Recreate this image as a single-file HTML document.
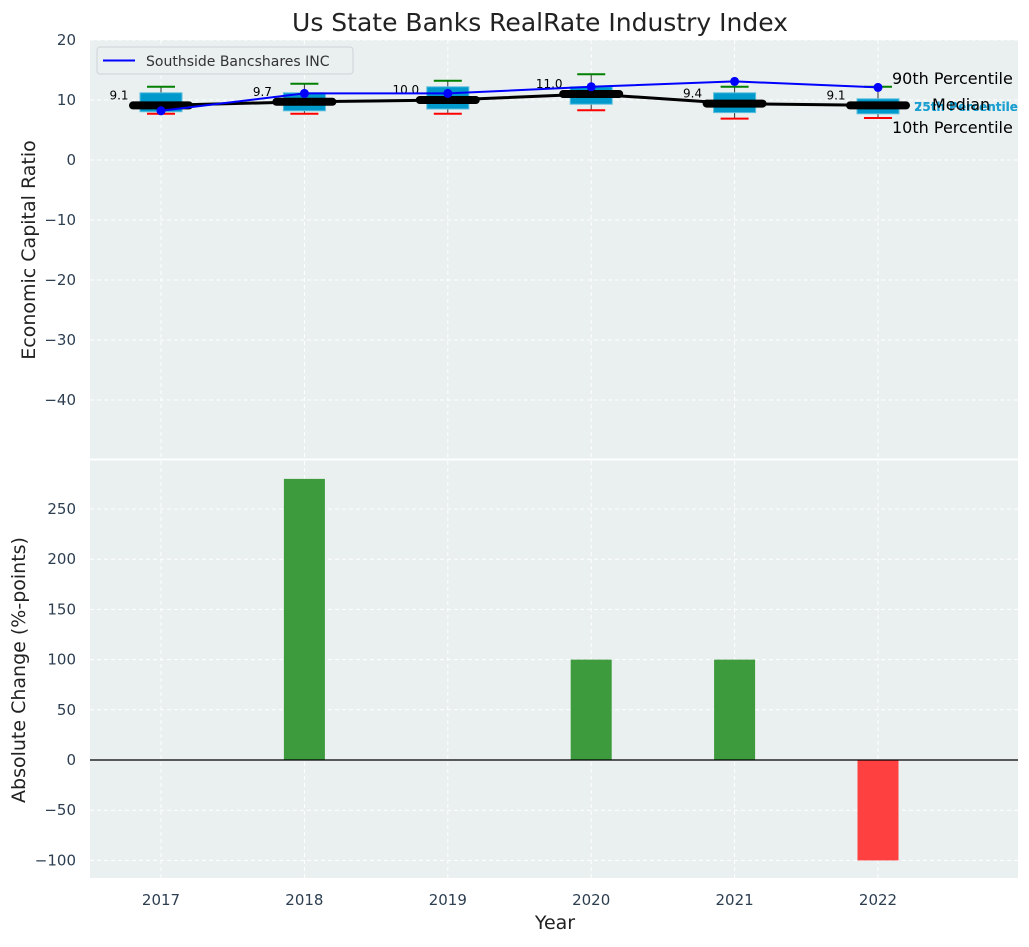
<!DOCTYPE html>
<html><head><meta charset="utf-8"><style>
body{margin:0;background:#fff;font-family:"Liberation Sans","DejaVu Sans",sans-serif}
svg text{font-family:"DejaVu Sans","Liberation Sans",sans-serif}
</style></head><body>
<svg id="c" width="1029" height="942" xmlns="http://www.w3.org/2000/svg"></svg>
<script>
const years=[2017,2018,2019,2020,2021,2022];
const p10=[7.7,7.7,7.7,8.3,6.9,7.0];
const p25=[8.05,8.2,8.5,9.3,7.9,7.7];
const median=[9.1,9.7,10.0,11.0,9.4,9.1];
const p75=[11.2,11.2,12.2,12.2,11.2,10.2];
const p90=[12.2,12.7,13.2,14.3,12.2,12.2];
const company=[8.2,11.1,11.1,12.2,13.1,12.1];
const changes=[0,280,0,100,100,-100];
const topTicks=[20,10,0,-10,-20,-30,-40];
const botTicks=[250,200,150,100,50,0,-50,-100];

const NS='http://www.w3.org/2000/svg';
const svg=document.getElementById('c');
function el(t,a,parent){const e=document.createElementNS(NS,t);for(const k in a)e.setAttribute(k,a[k]);(parent||svg).appendChild(e);return e;}
const L=90,R=1018;
const x=i=>161+i*143.4;
const yT=v=>160-v*6;
const yB=v=>760-v*1.004;

let bg=el('rect',{x:L,y:40,width:R-L,height:420,fill:'#eaeff0'});

let bg2=el('rect',{x:L,y:460,width:R-L,height:418,fill:'#eaeff0'});

el('line',{x1:L,x2:R,y1:459.5,y2:459.5,stroke:'#fff','stroke-width':2});

years.forEach((yr,i)=>{
 el('line',{x1:x(i),x2:x(i),y1:40,y2:458,stroke:'#fff','stroke-dasharray':'4,3','stroke-width':1});
 el('line',{x1:x(i),x2:x(i),y1:461,y2:878,stroke:'#fff','stroke-dasharray':'4,3','stroke-width':1});
 const t=el('text',{x:x(i),y:905,'text-anchor':'middle','font-size':15,fill:'#2c3e50'});t.textContent=yr;
 
});
topTicks.forEach(v=>{
 el('line',{x1:L,x2:R,y1:yT(v),y2:yT(v),stroke:'#fff','stroke-dasharray':'4,3'});
 const t=el('text',{x:76,y:yT(v)+5,'text-anchor':'end','font-size':15,fill:'#2c3e50'});t.textContent=v<0?'\u2212'+(-v):v;
 
});
botTicks.forEach(v=>{
 el('line',{x1:L,x2:R,y1:yB(v),y2:yB(v),stroke:'#fff','stroke-dasharray':'4,3'});
 const t=el('text',{x:76,y:yB(v)+5,'text-anchor':'end','font-size':15,fill:'#2c3e50'});t.textContent=v<0?'\u2212'+(-v):v;
 
});

years.forEach((yr,i)=>{
 const cx=x(i);
 el('line',{x1:cx,x2:cx,y1:yT(p90[i]),y2:yT(p10[i]),stroke:'#333','stroke-width':1});
 const b=el('rect',{x:cx-21,y:yT(p75[i]),width:42,height:yT(p25[i])-yT(p75[i]),fill:'#0099cc',stroke:'#5bc0de','stroke-width':1});
 
 el('line',{x1:cx-14,x2:cx+14,y1:yT(p90[i]),y2:yT(p90[i]),stroke:'green','stroke-width':2});
 el('line',{x1:cx-14,x2:cx+14,y1:yT(p10[i]),y2:yT(p10[i]),stroke:'red','stroke-width':2});
});
let pts=years.map((y,i)=>x(i)+','+yT(median[i])).join(' ');
let ml=el('polyline',{points:pts,fill:'none',stroke:'#000','stroke-width':3});

years.forEach((yr,i)=>{
 const m=el('line',{x1:x(i)-28,x2:x(i)+28,y1:yT(median[i]),y2:yT(median[i]),stroke:'#000','stroke-width':8,'stroke-linecap':'round'});
 
 const t=el('text',{x:x(i)-42,y:yT(median[i])-6,'text-anchor':'middle','font-size':12,fill:'#000'});t.textContent=median[i].toFixed(1);
 
});
let cl=el('polyline',{points:years.map((y,i)=>x(i)+','+yT(company[i])).join(' '),fill:'none',stroke:'blue','stroke-width':2});

years.forEach((yr,i)=>{
 const c=el('circle',{cx:x(i),cy:yT(company[i]),r:4.5,fill:'blue'});
 
});
[['90th Percentile',84,892,'#000',16,'normal'],
 ['25th Percentile',111,914,'#1a9fd0',12,'bold'],
 ['75th Percentile',111,914,'#1a9fd0',12,'bold'],
 ['Median',110,932,'#000',16,'normal'],
 ['10th Percentile',133,892,'#000',16,'normal']].forEach(l=>{
 const t=el('text',{x:l[2],y:l[1],'font-size':l[4],'font-weight':l[5],fill:l[3]});t.textContent=l[0];
 
});
years.forEach((yr,i)=>{
 const v=changes[i]; if(v===0)return;
 const b=el('rect',{x:x(i)-20.5,y:Math.min(yB(v),yB(0)),width:41,height:Math.abs(yB(v)-yB(0)),fill:v>0?'#3d9a3d':'#ff4040'});
 
});
el('line',{x1:L,x2:R,y1:yB(0),y2:yB(0),stroke:'#000','stroke-width':1.2});
</script>
<svg width="1029" height="942" style="position:absolute;left:0;top:0" xmlns="http://www.w3.org/2000/svg">
<text x="540" y="31" text-anchor="middle" font-size="25" fill="#222" font-family="DejaVu Sans,sans-serif">Us State Banks RealRate Industry Index</text>
<text transform="translate(35,250) rotate(-90)" text-anchor="middle" font-size="19" fill="#222" font-family="DejaVu Sans,sans-serif">Economic Capital Ratio</text>
<text transform="translate(25,670) rotate(-90)" text-anchor="middle" font-size="19" fill="#222" font-family="DejaVu Sans,sans-serif">Absolute Change (%-points)</text>
<text x="555" y="929" text-anchor="middle" font-size="19" fill="#222" font-family="DejaVu Sans,sans-serif">Year</text>
<g>
<rect x="97" y="47" width="256" height="27" rx="3" fill="#eaeff0" stroke="#cfd4d8"/>
<line x1="103" y1="60.5" x2="135" y2="60.5" stroke="blue" stroke-width="2"/>
<text x="146" y="66" font-size="14" fill="#333" font-family="DejaVu Sans,sans-serif">Southside Bancshares INC</text>
</g>
</svg>
</body></html>
